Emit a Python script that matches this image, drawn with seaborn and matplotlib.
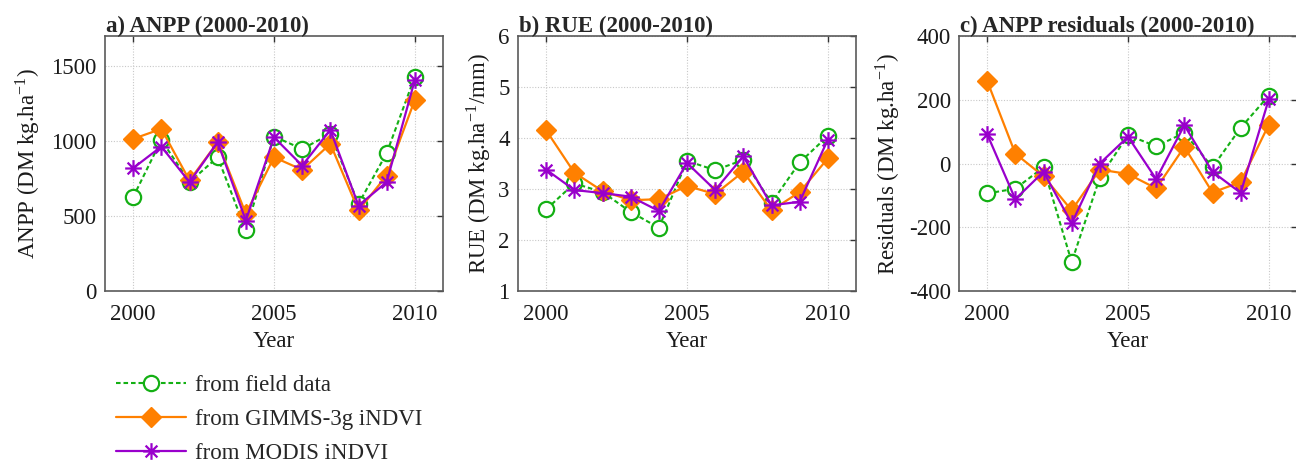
import numpy as np
import pandas as pd
import matplotlib
matplotlib.use("Agg")
import matplotlib.pyplot as plt
from matplotlib.path import Path
from matplotlib.lines import Line2D
import seaborn as sns

# ---- data -------------------------------------------------------------
years = list(range(2000, 2011))
sources = ["from field data", "from GIMMS-3g iNDVI", "from MODIS iNDVI"]

anpp_field = [626, 1007, 726, 892, 404, 1030, 947, 1047, 581, 919, 1429]
anpp_gimms = [1014, 1081, 737, 992, 515, 892, 808, 981, 537, 770, 1274]
anpp_modis = [819, 963, 726, 992, 470, 1025, 836, 1074, 570, 726, 1407]

rue_field = [2.60, 3.11, 2.94, 2.55, 2.24, 3.55, 3.37, 3.57, 2.73, 3.52, 4.04]
rue_gimms = [4.15, 3.32, 2.96, 2.78, 2.80, 3.06, 2.90, 3.34, 2.58, 2.94, 3.60]
rue_modis = [3.38, 2.98, 2.92, 2.85, 2.57, 3.51, 2.98, 3.64, 2.68, 2.75, 3.97]

res_field = [-94, -79, -12, -309, -44, 89, 54, 96, -12, 112, 213]
res_gimms = [259, 31, -40, -147, -19, -33, -78, 52, -91, -58, 122]
res_modis = [92, -112, -26, -188, 0, 84, -49, 120, -26, -92, 202]

titles = ["a) ANPP (2000-2010)", "b) RUE (2000-2010)", "c) ANPP residuals (2000-2010)"]
ylabels = [r"ANPP (DM kg.ha$^{\mathregular{-1}}$)",
           r"RUE (DM kg.ha$^{\mathregular{-1}}$/mm)",
           r"Residuals (DM kg.ha$^{\mathregular{-1}}$)"]
yticks = [[0, 500, 1000, 1500], [1, 2, 3, 4, 5, 6], [-400, -200, 0, 200, 400]]
ylims = [(0, 1700), (1, 6), (-400, 400)]
xticks = [2000, 2005, 2010]

panels = [
    {"field": anpp_field, "gimms": anpp_gimms, "modis": anpp_modis},
    {"field": rue_field, "gimms": rue_gimms, "modis": rue_modis},
    {"field": res_field, "gimms": res_gimms, "modis": res_modis},
]

# ---- styling ------------------------------------------------------------
sns.set_theme(style="white")
plt.rcParams["font.family"] = ["Liberation Serif", "DejaVu Serif"]
plt.rcParams["mathtext.fontset"] = "stix"
plt.rcParams["axes.unicode_minus"] = False

FS = 16.5
green = "#14b014"
orange = "#ff8000"
purple = "#9900cc"
spine_col = "#5a5a5a"
text_col = "#1a1a1a"

# eight-spoke asterisk marker
s = 0.7071
asterisk = Path(
    [(-1, 0), (1, 0), (0, -1), (0, 1), (-s, -s), (s, s), (-s, s), (s, -s)],
    [Path.MOVETO, Path.LINETO] * 4,
)

styles = {
    "field": dict(color=green, linestyle=(0, (2.2, 1.4)), linewidth=1.5,
                  marker="o", markersize=11, markerfacecolor="white",
                  markeredgecolor=green, markeredgewidth=1.6),
    "gimms": dict(color=orange, linestyle="-", linewidth=1.6,
                  marker="D", markersize=10, markerfacecolor=orange,
                  markeredgecolor=orange, markeredgewidth=1.0),
    "modis": dict(color=purple, linestyle="-", linewidth=1.6,
                  marker=asterisk, markersize=12, markerfacecolor="none",
                  markeredgecolor=purple, markeredgewidth=1.6),
}

fig = plt.figure(figsize=(12.96, 4.63), dpi=100)
W, H = 1296, 463
ax_lefts = [105, 518, 959]
ax_w, ax_top, ax_bot = 338, 36, 291
label_x = [-0.185, -0.075, -0.17]

for i, pdata in enumerate(panels):
    ax = fig.add_axes([ax_lefts[i] / W, (H - ax_bot) / H, ax_w / W, (ax_bot - ax_top) / H])
    for key in ["field", "gimms", "modis"]:
        df = pd.DataFrame({"Year": years, "Value": pdata[key]})
        st = styles[key]
        sns.lineplot(data=df, x="Year", y="Value", ax=ax, legend=False,
                     color=st["color"], linestyle=st["linestyle"], linewidth=st["linewidth"],
                     marker=st["marker"], markersize=st["markersize"],
                     markerfacecolor=st["markerfacecolor"],
                     markeredgecolor=st["markeredgecolor"],
                     markeredgewidth=st["markeredgewidth"], zorder=3)
    ax.set_xlim(1999, 2011)
    ax.set_ylim(*ylims[i])
    ax.set_xticks(xticks)
    ax.set_yticks(yticks[i])
    ax.grid(True, color="#c8c8c8", linestyle=(0, (1, 1.5)), linewidth=0.8)
    ax.set_axisbelow(True)
    for sp in ax.spines.values():
        sp.set_color(spine_col)
        sp.set_linewidth(1.2)
    ax.tick_params(direction="in", length=4, width=1, color="#333333",
                   top=True, right=True, labelsize=FS, pad=6, labelcolor=text_col)
    ax.tick_params(axis="x", pad=9.5)
    ax.set_xlabel("Year", fontsize=FS, color=text_col, labelpad=4)
    ax.set_ylabel(ylabels[i], fontsize=FS, color=text_col)
    ax.yaxis.set_label_coords(label_x[i], 0.5)
    ax.set_title(titles[i], loc="left", fontsize=FS, fontweight="bold", pad=3, x=0.003)

# legend below the first panel
handles = []
for key in ["field", "gimms", "modis"]:
    st = styles[key]
    handles.append(Line2D([0], [0], color=st["color"], linestyle=st["linestyle"],
                          linewidth=st["linewidth"], marker=st["marker"],
                          markersize=st["markersize"],
                          markerfacecolor=st["markerfacecolor"],
                          markeredgecolor=st["markeredgecolor"],
                          markeredgewidth=st["markeredgewidth"]))
fig.legend(handles, sources, loc="upper left", bbox_to_anchor=(116 / W, 1 - 375 / H),
           frameon=False, fontsize=FS, handlelength=3.05, handletextpad=0.4,
           labelspacing=0.56, borderpad=0, borderaxespad=0)

fig.savefig("out.png", dpi=100)
